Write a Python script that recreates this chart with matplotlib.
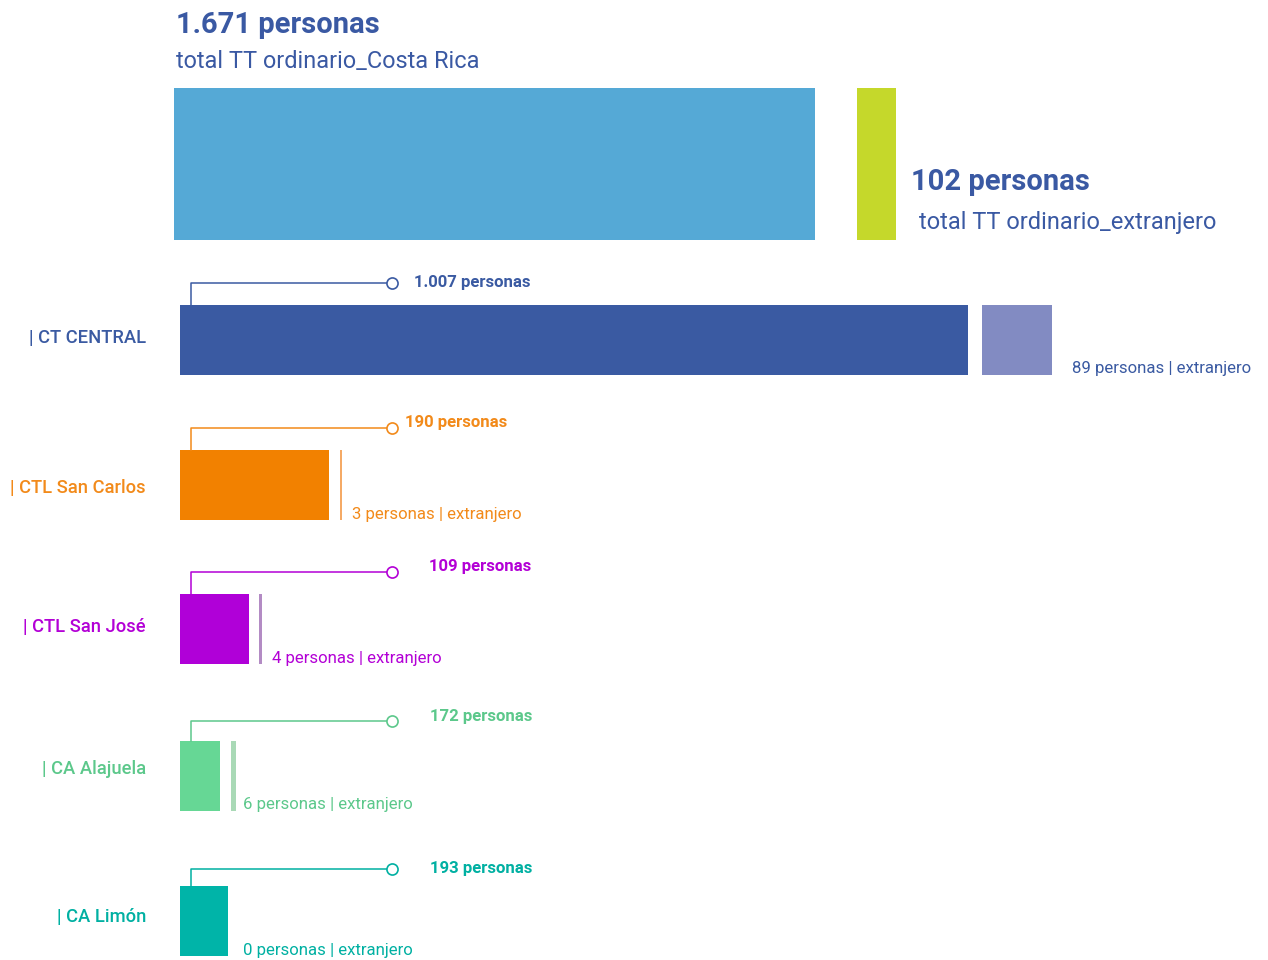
import matplotlib
matplotlib.use('Agg')
from matplotlib import pyplot as plt

plt.rcParams['font.family'] = ['Roboto', 'DejaVu Sans']

# ---- datos ----
total_cr = 1671
total_ext = 102
centros = ['| CT CENTRAL', '| CTL San Carlos', '| CTL San José', '| CA Alajuela', '| CA Limón']
personas = [1007, 190, 109, 172, 193]
largo_barra = [1007, 190, 88, 51, 61]   # largo de la barra tal como aparece
extranjero = [89, 3, 4, 6, 0]

color_titulo = '#3A59A3'
color_cr = '#55A9D6'
color_ext_total = '#C5D82B'
colores = ['#3A5AA2', '#F28100', '#B000D8', '#66D795', '#00B4A8']
colores_ext = ['#828BC2', '#F5AA66', '#B38BC4', '#A9D9B6', '#00B4A8']
colores_txt = ['#3A5AA2', '#F28A1A', '#B300D6', '#5CC88B', '#00B0A2']

# ---- layout (pixeles) ----
W, H = 1268, 960
fila_y = [340, 485, 629, 776, 921]
alto = 70
conector_dy = [22, 22, 22, 20, 17]
x_valor = [414, 405, 429, 430, 430]
y_valor = [283, 422, 567, 717, 868]
y_nombre = [338, 488, 627, 769, 917]
x_ext_txt = [1072, 352, 272, 243, 243]
gap_ext = [14, 11, 10, 11, 11]

fig = plt.figure(figsize=(W / 100, H / 100), dpi=100)
ax_top = fig.add_axes([0, 0, 1, 1])
ax = fig.add_axes([0, 0, 1, 1])
ax_txt = fig.add_axes([0, 0, 1, 1])
for a in (ax_top, ax, ax_txt):
    a.set_ylim(H, 0)
    a.axis('off')
    a.patch.set_alpha(0)
ax_txt.set_xlim(0, W)

# bloque superior: escala propia
k_top = 641 / total_cr
ax_top.set_xlim(-174 / k_top, (W - 174) / k_top)
ax_top.barh(164, total_cr, height=152, left=0, color=color_cr)
ax_top.barh(164, total_ext, height=152, left=total_cr + 42 / k_top, color=color_ext_total)

ax_txt.text(176, 25, f'{total_cr:,}'.replace(',', '.') + ' personas', fontsize=21,
            fontweight='bold', color=color_titulo, va='center', ha='left')
ax_txt.text(176, 61, 'total TT ordinario_Costa Rica', fontsize=16.9,
            color=color_titulo, va='center', ha='left')
ax_txt.text(911, 182, f'{total_ext} personas', fontsize=21,
            fontweight='bold', color=color_titulo, va='center', ha='left')
ax_txt.text(919, 222, 'total TT ordinario_extranjero', fontsize=17,
            color=color_titulo, va='center', ha='left')

# filas por centro
k = 788 / personas[0]
ax.set_xlim(-180 / k, (W - 180) / k)
for i, nombre in enumerate(centros):
    y = fila_y[i]
    c = colores[i]
    ax.barh(y, largo_barra[i], height=alto, left=0, color=c)
    if extranjero[i] > 0:
        ax.barh(y, extranjero[i], height=alto, left=largo_barra[i] + gap_ext[i] / k,
                color=colores_ext[i])

    # conector con circulo
    yc = y - alto / 2 - conector_dy[i]
    x0, x1 = 11 / k, 212 / k
    ax.plot([x0, x0, x1], [y - alto / 2, yc, yc], color=colores_txt[i], lw=1.1, zorder=3)
    ax.plot(x1, yc, 'o', mfc='white', mec=colores_txt[i], ms=8, mew=1.2, zorder=4)

    valor = f'{personas[i]:,}'.replace(',', '.') + ' personas'
    ax_txt.text(x_valor[i], y_valor[i], valor, fontsize=12.1, fontweight='bold',
                color=colores_txt[i], va='center', ha='left')
    ax_txt.text(146, y_nombre[i], nombre, fontsize=13.2, fontweight='medium',
                color=colores_txt[i], va='center', ha='right')
    ax_txt.text(x_ext_txt[i], y + alto / 2 - 6, f'{extranjero[i]} personas | extranjero',
                fontsize=12.1, color=colores_txt[i], va='center', ha='left')

plt.savefig('out.png', dpi=100, facecolor='white')
